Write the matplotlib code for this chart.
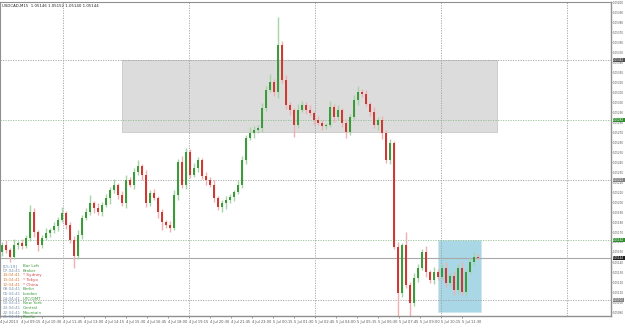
import numpy as np
import matplotlib
matplotlib.use("Agg")
import matplotlib.pyplot as plt
from matplotlib.patches import Rectangle

# M15 candles, prices in points (1 point = 0.00001)
first_open = 105150
closes = [105157, 105152, 105145, 105157, 105159, 105156, 105164, 105190, 105170, 105157,
          105164, 105169, 105172, 105176, 105182, 105189, 105177, 105162, 105146, 105167,
          105184, 105190, 105199, 105194, 105190, 105197, 105204, 105212, 105217, 105207,
          105199, 105222, 105217, 105230, 105236, 105227, 105199, 105209, 105204, 105190,
          105180, 105177, 105174, 105207, 105240, 105217, 105250, 105227, 105234, 105242,
          105226, 105222, 105217, 105204, 105195, 105199, 105202, 105205, 105210, 105217,
          105242, 105264, 105269, 105272, 105274, 105294, 105312, 105320, 105310, 105357,
          105322, 105297, 105292, 105277, 105292, 105297, 105292, 105289, 105282, 105279,
          105276, 105277, 105295, 105285, 105292, 105279, 105270, 105285, 105302, 105310,
          105308, 105298, 105290, 105277, 105282, 105269, 105242, 105259, 105155, 105109,
          105157, 105117, 105099, 105124, 105134, 105150, 105130, 105122, 105130, 105125,
          105134, 105119, 105126, 105112, 105134, 105110, 105130, 105140, 105145, 105144]
wick_up = [3, 5, 2, 6, 2, 4, 3, 7, 4, 2, 3, 5, 2, 4, 3, 6, 2, 3, 4, 5,
           3, 4, 8, 2, 5, 3, 4, 3, 6, 2, 4, 5, 3, 4, 6, 2, 5, 3, 4, 2,
           3, 2, 4, 5, 3, 6, 4, 3, 5, 3, 2, 4, 3, 5, 2, 3, 4, 3, 2, 5,
           4, 3, 6, 4, 3, 5, 4, 8, 3, 28, 4, 5, 3, 2, 6, 4, 3, 5, 2, 4,
           3, 2, 6, 3, 5, 2, 4, 3, 5, 6, 3, 4, 2, 5, 3, 4, 3, 4, 2, 5,
           2, 13, 3, 5, 4, 3, 6, 2, 5, 3, 4, 6, 3, 5, 4, 6, 3, 4, 5, 3]
wick_dn = [4, 3, 5, 2, 4, 3, 2, 3, 5, 6, 3, 2, 4, 3, 5, 2, 4, 3, 12, 3,
           4, 2, 3, 5, 3, 4, 2, 6, 3, 4, 3, 5, 2, 4, 3, 5, 4, 3, 2, 6,
           8, 3, 4, 2, 5, 3, 4, 3, 2, 4, 3, 5, 2, 4, 3, 5, 6, 3, 4, 2,
           3, 4, 2, 5, 3, 4, 3, 2, 4, 6, 3, 4, 5, 12, 3, 2, 4, 3, 5, 2,
           4, 3, 2, 5, 3, 4, 6, 3, 2, 5, 3, 2, 4, 3, 5, 6, 3, 4, 2, 24,
           4, 3, 13, 3, 4, 2, 5, 3, 4, 3, 2, 4, 3, 5, 4, 3, 4, 2, 3, 2]

x_labels = ["4 Jul 2013", "4 Jul 09:15", "4 Jul 10:30", "4 Jul 11:45", "4 Jul 13:00",
            "4 Jul 14:15", "4 Jul 15:30", "4 Jul 16:45", "4 Jul 18:00", "4 Jul 19:15",
            "4 Jul 20:30", "4 Jul 21:45", "4 Jul 23:00", "5 Jul 00:15", "5 Jul 01:30",
            "5 Jul 02:45", "5 Jul 04:00", "5 Jul 05:15", "5 Jul 06:30", "5 Jul 07:45",
            "5 Jul 09:00", "5 Jul 10:15", "5 Jul 11:30"]

grid_levels = [105342, 105282, 105222, 105162, 105102]
green_levels = [105282, 105162]
gray_box = (30, 123.75, 105270, 105342)     # x0, x1, y0, y1
blue_box = (109, 119.75, 105090, 105162)

clock_times = ["[15:19]", "07:04:41", "14:04:41", "13:04:41", "12:04:41", "08:04:41",
               "05:04:41", "04:04:41", "00:04:41", "23:04:41", "22:04:41", "21:04:41"]
clock_names = ["Bar Left", "Broker", "* Sydney", "* Tokyo", "* China", "Berlin",
               "London", "UTC/GMT", "New York", "Central", "Mountain", "Pacific"]

closes = np.array(closes) / 1e5
opens = np.concatenate([[first_open / 1e5], closes[:-1]])
highs = np.maximum(opens, closes) + np.array(wick_up) / 1e5
lows = np.minimum(opens, closes) - np.array(wick_dn) / 1e5
idx = np.arange(len(closes))

fig = plt.figure(figsize=(6.25, 3.31), dpi=100)
ax = fig.add_axes([0.0, 15 / 331, 611 / 625, 314 / 331])
ax.set_xlim(-0.5, 152.25)
ax.set_ylim(1.05086, 1.05400)

# boxes
ax.add_patch(Rectangle((gray_box[0], gray_box[2] / 1e5), gray_box[1] - gray_box[0],
                       (gray_box[3] - gray_box[2]) / 1e5, facecolor="#dcdcdc",
                       edgecolor="#c8c8c8", lw=0.6, zorder=0))
ax.add_patch(Rectangle((blue_box[0], blue_box[2] / 1e5), blue_box[1] - blue_box[0],
                       (blue_box[3] - blue_box[2]) / 1e5, facecolor="#a9d7e6",
                       edgecolor="#cfe8f0", lw=0.6, zorder=0))

# grid
for lv in grid_levels:
    c = "#8fbf8f" if lv in green_levels else "#a0a0a0"
    ax.axhline(lv / 1e5, color=c, lw=0.6, ls=(0, (1.5, 1.5)), zorder=1)
for k in [3, 9, 15, 21, 27]:
    ax.axvline(5.25 * k - 0.5, color="#a0a0a0", lw=0.6, ls=(0, (1.5, 1.5)), zorder=1)

# bid line
ax.axhline(closes[-1], color="#a8a8a8", lw=0.8, zorder=1)

# candles
up = closes >= opens
ax.vlines(idx[up], lows[up], highs[up], color="#a6d4a6", lw=1.0, zorder=2)
ax.vlines(idx[~up], lows[~up], highs[~up], color="#f0b0b0", lw=1.0, zorder=2)
body_h = np.maximum(np.abs(closes - opens), 0.000008)
ax.bar(idx[up], body_h[up], bottom=np.minimum(opens, closes)[up], width=0.6,
       color="#3c9a3c", zorder=3)
ax.bar(idx[~up], body_h[~up], bottom=np.minimum(opens, closes)[~up], width=0.6,
       color="#cc3b33", zorder=3)

# axes look
for s in ["left", "top"]:
    ax.spines[s].set_color("#909090")
    ax.spines[s].set_linewidth(0.8)
for s in ["right", "bottom"]:
    ax.spines[s].set_color("#909090")
    ax.spines[s].set_linewidth(1.0)

ax.yaxis.tick_right()
yt = np.arange(105090, 105401, 10) / 1e5
ax.set_yticks(yt)
ax.set_yticklabels([f"{v:.5f}" for v in yt], fontsize=2.0, color="#333333")
ax.tick_params(axis="y", length=1.0, width=0.4, pad=0.6, colors="#555555")

ax.set_xticks(5.25 * np.arange(len(x_labels)) - 0.5)
ax.set_xticklabels(x_labels, fontsize=2.6, color="#333333", ha="left")
ax.tick_params(axis="x", length=1.5, width=0.4, pad=1.5, colors="#555555")

# price tags on the right axis
tags = [(105342, "#505050"), (105282, "#2f8f2f"), (105222, "#808080"),
        (105162, "#2f8f2f"), (closes[-1] * 1e5, "#202020"), (105102, "#808080")]
for lv, c in tags:
    ax.text(1.0035, lv / 1e5, f"{lv / 1e5:.5f}", transform=ax.get_yaxis_transform(),
            fontsize=2.0, color="white", va="center", ha="left",
            bbox=dict(boxstyle="square,pad=0.12", fc=c, ec="none"), clip_on=False)

# title
ax.text(0.004, 0.995, "USDCAD,M15  1.05146 1.05152 1.05140 1.05144", transform=ax.transAxes,
        fontsize=2.8, color="#222222", va="top", ha="left")

# clock panel
for k, (t, n) in enumerate(zip(clock_times, clock_names)):
    ty = 1 - (266 - 2 + 4.67 * k) / 314
    if k == 0:
        tc, nc = "#6a8fb0", "#3c9a3c"
    elif 2 <= k <= 4:
        tc, nc = "#d9813d", "#d04848"
    else:
        tc, nc = "#7d95b0", "#3c9a3c"
    ax.text(3 / 611, ty, t, transform=ax.transAxes, fontsize=3.0, color=tc,
            va="center", ha="left")
    ax.text(23 / 611, ty, n, transform=ax.transAxes, fontsize=3.0, color=nc,
            va="center", ha="left")

fig.savefig("out.png", dpi=100, facecolor="white")
